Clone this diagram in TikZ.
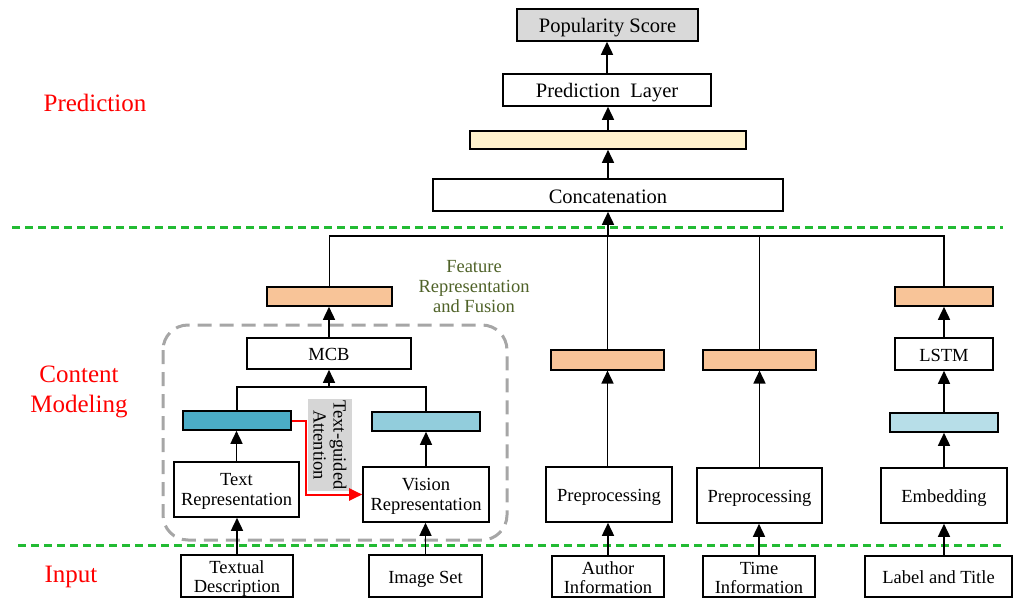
\documentclass[tikz,border=0pt]{standalone}
\usepackage{fontspec}
\setmainfont{Liberation Serif}
\usetikzlibrary{arrows.meta}
\definecolor{orangebar}{RGB}{248,196,152}
\definecolor{creambar}{RGB}{255,242,204}
\definecolor{tealbar}{RGB}{75,172,198}
\definecolor{lbluebar}{RGB}{146,205,220}
\definecolor{pbluebar}{RGB}{183,222,232}
\definecolor{popgray}{RGB}{217,217,217}
\definecolor{attgray}{RGB}{214,214,214}
\definecolor{dashgreen}{RGB}{34,187,51}
\definecolor{olivetext}{RGB}{79,98,40}
\definecolor{fusegray}{RGB}{166,166,166}
\newcommand\boxfont{\fontsize{18.5}{20}\selectfont}
\newcommand\inputfont{\fontsize{18.5}{19.2}\selectfont}
\newcommand\topfont{\fontsize{20.5}{22}\selectfont}
\newcommand\redfont{\fontsize{25}{30}\selectfont}
\newcommand\twolines[2]{\begin{tabular}[t]{@{}c@{}}#1\\#2\end{tabular}}
\tikzset{
  boxbase/.style={draw=black, line width=1.6pt, fill=white, inner sep=0pt, font=\boxfont},
  onebox/.style={boxbase, text height=14pt, text depth=0pt},
  topbox/.style={boxbase, font=\topfont, text height=16pt, text depth=0pt},
  repbox/.style={boxbase, text height=13pt, text depth=22pt},
  inbox/.style={boxbase, font=\inputfont, text height=13pt, text depth=18pt},
  bar/.style={draw=black, line width=1.6pt, inner sep=0pt},
  conn/.style={line width=1.6pt, draw=black},
  arr/.style={conn, -{Triangle[width=12pt,length=13pt]}},
  redarr/.style={line width=2pt, draw=red, -{Triangle[width=12pt,length=13pt]}},
  gline/.style={draw=dashgreen, line width=3pt, dash pattern=on 8pt off 5pt},
  fuse/.style={draw=fusegray, line width=3pt, dash pattern=on 14pt off 8pt, rounded corners=25pt},
  sect/.style={text=red, font=\redfont, align=center, inner sep=0pt},
}
\begin{document}
\begin{tikzpicture}[x=1pt,y=-1pt]
\useasboundingbox (0,0) rectangle (1014,599);

% dashed separators
\coordinate (g1a) at (12,227); \coordinate (g1b) at (1003,227);
\coordinate (g2a) at (18,545); \coordinate (g2b) at (1005,545);
\draw[gline] (g1a) -- (g1b);
\draw[gline] (g2a) -- (g2b);

% section labels
\node[sect] (lpred) at (95,103) {Prediction};
\node[sect] (lcont) at (79,392) {Content\\Modeling};
\node[sect] (linput) at (71,577) {Input};
\node[text=olivetext, font=\boxfont, align=center, inner sep=0pt] (lfeat) at (474,287) {Feature\\Representation\\and Fusion};

% fusion region
\draw[fuse] (163,325) rectangle (507,540);

% top stack
\node[topbox, fill=popgray, minimum width=181pt, minimum height=32pt] (pop) at (607.5,25) {Popularity Score};
\node[topbox, minimum width=208pt, minimum height=32pt] (predl) at (607,90) {Prediction\ \ Layer};
\node[bar, fill=creambar, minimum width=276pt, minimum height=18pt] (cream) at (608,140) {};
\node[topbox, minimum width=350pt, minimum height=32pt] (concat) at (608,195) {Concatenation};

% branch 1: text + vision
\node[bar, fill=orangebar, minimum width=125pt, minimum height=19pt] (ob1) at (329.5,296.5) {};
\node[onebox, minimum width=164pt, minimum height=31pt] (mcb) at (329,353.5) {MCB};
\node[bar, fill=tealbar, minimum width=108pt, minimum height=19pt] (teal) at (237,420.5) {};
\node[bar, fill=lbluebar, minimum width=108pt, minimum height=19pt] (lblue) at (426,421.5) {};
\node[repbox, minimum width=125pt, minimum height=55pt] (trep) at (236.5,489.5) {\twolines{Text}{Representation}};
\node[repbox, minimum width=126pt, minimum height=55pt] (vrep) at (426,494.5) {\twolines{Vision}{Representation}};
\node[inbox, minimum width=112pt, minimum height=42pt] (tdesc) at (237,576) {\twolines{Textual}{Description}};
\node[onebox, minimum width=113pt, minimum height=42pt] (imgset) at (425.5,576) {Image Set};
\node[fill=attgray, rotate=-90, align=center, font=\boxfont, inner sep=1pt, minimum width=90pt, minimum height=44pt] (att) at (330,445) {Text-guided\\Attention};

% branch 2: author
\node[bar, fill=orangebar, minimum width=113pt, minimum height=19.5pt] (ob2) at (607.5,360) {};
\node[onebox, minimum width=126pt, minimum height=55pt] (pre1) at (609,494.5) {Preprocessing};
\node[inbox, minimum width=112pt, minimum height=41pt] (author) at (608,576.5) {\twolines{Author}{Information}};

% branch 3: time
\node[bar, fill=orangebar, minimum width=113pt, minimum height=19.5pt] (ob3) at (759.5,360) {};
\node[onebox, minimum width=125pt, minimum height=55pt] (pre2) at (759.5,495.5) {Preprocessing};
\node[inbox, minimum width=112pt, minimum height=41pt] (time) at (759,576.5) {\twolines{Time}{Information}};

% branch 4: label and title
\node[bar, fill=orangebar, minimum width=98pt, minimum height=19pt] (ob4) at (944,296.5) {};
\node[onebox, minimum width=98pt, minimum height=32pt] (lstm) at (944,354) {LSTM};
\node[bar, fill=pbluebar, minimum width=108pt, minimum height=19pt] (bbar) at (944,422.5) {};
\node[onebox, minimum width=126pt, minimum height=55pt] (emb) at (944,495.5) {Embedding};
\node[onebox, minimum width=147pt, minimum height=41pt] (ltitle) at (938.5,576.5) {Label and Title};

% buses
\coordinate (bus) at (0,236);
\coordinate (sbus) at (0,387);

% top arrows
\draw[arr] (predl.north) -- (predl.north |- pop.south);
\draw[arr] (cream.north) -- (cream.north |- predl.south);
\draw[arr] (concat.north) -- (concat.north |- cream.south);

% main bus
\draw[conn] (ob1.north) -- (ob1.north |- bus) -- (ob4.north |- bus) -- (ob4.north);
\draw[conn] (ob2.north) -- (ob2.north |- bus);
\draw[conn] (ob3.north) -- (ob3.north |- bus);
\draw[arr] (concat.south |- bus) -- (concat.south);

% branch 1 connectors
\draw[arr] (mcb.north) -- (mcb.north |- ob1.south);
\draw[conn] (teal.north) -- (teal.north |- sbus) -- (lblue.north |- sbus) -- (lblue.north);
\draw[arr] (mcb.south |- sbus) -- (mcb.south);
\draw[arr] (trep.north) -- (trep.north |- teal.south);
\draw[arr] (vrep.north) -- (vrep.north |- lblue.south);
\draw[arr] (tdesc.north) -- (tdesc.north |- trep.south);
\draw[arr] (imgset.north) -- (imgset.north |- vrep.south);
\draw[redarr] (teal.east) -- ++(14,0) |- (vrep.west);

% branch 2-4 connectors
\draw[arr] (pre1.north -| ob2.south) -- (ob2.south);
\draw[arr] (author.north) -- (author.north |- pre1.south);
\draw[arr] (pre2.north -| ob3.south) -- (ob3.south);
\draw[arr] (time.north) -- (time.north |- pre2.south);
\draw[arr] (lstm.north) -- (lstm.north |- ob4.south);
\draw[arr] (bbar.north) -- (bbar.north |- lstm.south);
\draw[arr] (emb.north) -- (emb.north |- bbar.south);
\draw[arr] (emb.south |- ltitle.north) -- (emb.south);
\end{tikzpicture}
\end{document}
